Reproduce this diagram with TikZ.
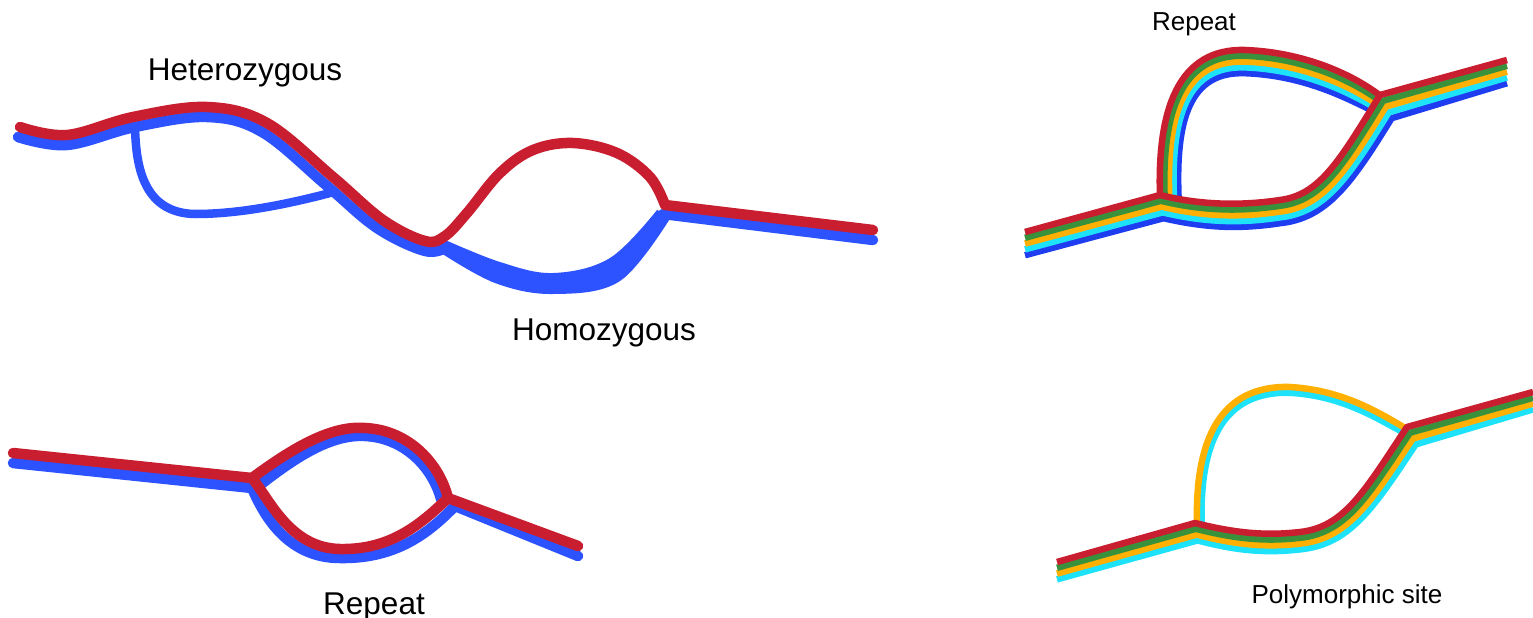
\documentclass[tikz,border=0pt]{standalone}
\usepackage{fontspec}
\setmainfont{Liberation Sans}
\usepackage{xcolor}
\definecolor{hapred}{RGB}{200,30,48}
\definecolor{hapblue}{RGB}{45,82,255}
\definecolor{hapgreen}{RGB}{58,145,60}
\definecolor{haporange}{RGB}{255,176,0}
\definecolor{hapcyan}{RGB}{30,225,250}
\definecolor{hapdblue}{RGB}{30,60,240}

\begin{document}
\begin{tikzpicture}[x=1pt, y=-1pt,
    hap/.style={line width=10.5pt, line cap=round, line join=round},
    thinhap/.style={line width=8.5pt, line cap=round, line join=round},
    strand/.style={line width=6.5pt, line join=round},
    lbl/.style={anchor=base, inner sep=0pt, font=\fontsize{31.5}{36}\selectfont},
    slbl/.style={anchor=base, inner sep=0pt, font=\fontsize{26}{30}\selectfont}
]
\useasboundingbox (0,0) rectangle (1533,618);

% top left: heterozygous and homozygous bubbles
\draw[thinhap, hapblue] (135,127) .. controls (136,162) and (141,213) .. (195,214)
    .. controls (240,214) and (288,204) .. (330,193);
\draw[hap, hapblue] plot[smooth, tension=0.6] coordinates {(18,137) (67,145) (135,127)
    (207,117) (262,132) (326,185) (377,228) (425,251) (447,247)};
\fill[hapblue] plot[smooth, tension=0.6] coordinates {(443,239) (500,262) (553,273) (610,258) (657,210)}
    -- plot[smooth, tension=0.6] coordinates {(671,217) (620,281) (553,294) (495,283) (441,253)} -- cycle;
\draw[hap, hapblue] (663,214) -- (873,240);
\draw[hap, hapred] plot[smooth, tension=0.6] coordinates {(20,127) (67,135) (133,117)
    (207,107) (267,123) (333,177) (383,220) (425,241) (445,236) (467,213) (500,173)
    (533,150) (573,143) (617,153) (650,177) (665,205)} -- (873,230);

\node[lbl] (hetlbl) at (245,80) {Heterozygous};
\node[lbl] (homlbl) at (604,340) {Homozygous};

% bottom left: repeat
\draw[hap, hapblue] (13,463) -- (252,488) .. controls (262,511) and (285,558) .. (340,558)
    .. controls (395,559) and (428,534) .. (455,506) -- (578,556);
\draw[hap, hapblue] (260,485) .. controls (296,457) and (331,434) .. (365,436)
    .. controls (406,438) and (433,469) .. (441,499);
\draw[hap, hapred] (13,453) -- (252,478) .. controls (270,500) and (290,548) .. (340,549)
    .. controls (390,550) and (420,525) .. (448,498) -- (578,546);
\draw[hap, hapred] (252,478) .. controls (290,450) and (330,425) .. (365,428)
    .. controls (410,430) and (440,465) .. (448,498);

\node[lbl] (replbl) at (374,614) {Repeat};

% top right: repeat, five haplotypes
\foreach \c/\k in {hapdblue/4, hapcyan/3, haporange/2, hapgreen/1, hapred/0} {
  \pgfmathsetmacro\s{5.8*\k}
  \draw[strand, \c] ({1160+0.8*\s},197) .. controls ({1157+0.8*\s},{110+0.4*\s}) and ({1178+0.5*\s},{48+\s}) .. (1245,{50+\s})
      .. controls (1300,{52+\s}) and ({1350-0.4*\s},{72+\s}) .. ({1382-0.6*\s},{97+0.5*\s});
}
\foreach \c/\k in {hapdblue/4, hapcyan/3, haporange/2, hapgreen/1, hapred/0} {
  \pgfmathsetmacro\s{5.8*\k}
  \draw[strand, \c] (1025,{232+\s}) -- ({1160+0.15*\s},{195+\s})
      .. controls ({1200+0.3*\s},{205+\s}) and (1240,{206+\s}) .. (1280,{200+\s})
      .. controls ({1320+0.3*\s},{195+\s}) and ({1340+0.5*\s},{160+\s}) .. ({1380+0.5*\s},{95+\s})
      -- (1507,{60+\s});
}
\node[slbl] (reptlbl) at (1194,31) {Repeat};

% bottom right: polymorphic site, four haplotypes
\foreach \c/\k in {hapcyan/3, haporange/2} {
  \pgfmathsetmacro\s{5.8*(\k-2)}
  \draw[strand, \c] ({1197+0.8*\s},523) .. controls ({1195+0.8*\s},{440+0.4*\s}) and ({1220+0.5*\s},{385+\s}) .. (1290,{387+\s})
      .. controls (1340,{390+\s}) and ({1375-0.4*\s},{410+\s}) .. ({1405-0.6*\s},{428+0.6*\s});
}
\foreach \c/\k in {hapcyan/3, haporange/2, hapgreen/1, hapred/0} {
  \pgfmathsetmacro\s{5.8*\k}
  \draw[strand, \c] (1057,{562+\s}) -- ({1195+0.15*\s},{523+\s})
      .. controls (1235,{533+\s}) and (1265,{536+\s}) .. (1300,{532+\s})
      .. controls ({1345+0.3*\s},{527+\s}) and ({1365+0.5*\s},{490+\s}) .. ({1407+0.5*\s},{427+\s})
      -- (1533,{392+\s});
}
\node[slbl] (polylbl) at (1347,603) {Polymorphic site};
\end{tikzpicture}
\end{document}
